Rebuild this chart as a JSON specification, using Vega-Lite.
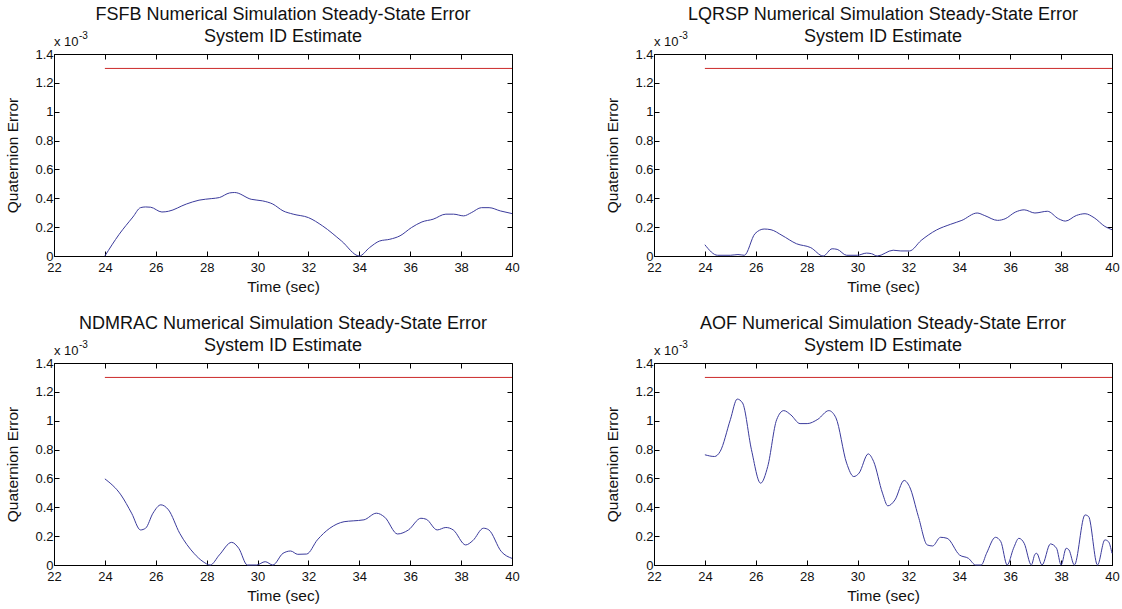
{
  "$schema": "https://vega.github.io/schema/vega-lite/v6.json",
  "background": "white",
  "padding": {"left": 5, "top": 5, "right": 5, "bottom": 5},
  "datasets": {
    "curves": [
      {"ctrl": "FSFB", "t": 24, "err": 0},
      {"ctrl": "FSFB", "t": 24.56, "err": 0.15},
      {"ctrl": "FSFB", "t": 25.1, "err": 0.27},
      {"ctrl": "FSFB", "t": 25.4, "err": 0.335},
      {"ctrl": "FSFB", "t": 25.6, "err": 0.34},
      {"ctrl": "FSFB", "t": 25.8, "err": 0.338},
      {"ctrl": "FSFB", "t": 26.24, "err": 0.305},
      {"ctrl": "FSFB", "t": 26.5, "err": 0.31},
      {"ctrl": "FSFB", "t": 27.2, "err": 0.36},
      {"ctrl": "FSFB", "t": 27.7, "err": 0.387},
      {"ctrl": "FSFB", "t": 28.2, "err": 0.398},
      {"ctrl": "FSFB", "t": 28.5, "err": 0.405},
      {"ctrl": "FSFB", "t": 28.9, "err": 0.437},
      {"ctrl": "FSFB", "t": 29.1, "err": 0.44},
      {"ctrl": "FSFB", "t": 29.75, "err": 0.393},
      {"ctrl": "FSFB", "t": 30.2, "err": 0.382},
      {"ctrl": "FSFB", "t": 30.6, "err": 0.36},
      {"ctrl": "FSFB", "t": 31.0, "err": 0.313},
      {"ctrl": "FSFB", "t": 31.4, "err": 0.29},
      {"ctrl": "FSFB", "t": 32.0, "err": 0.266},
      {"ctrl": "FSFB", "t": 32.56, "err": 0.208},
      {"ctrl": "FSFB", "t": 33.3, "err": 0.104},
      {"ctrl": "FSFB", "t": 34.0, "err": 0},
      {"ctrl": "FSFB", "t": 34.4, "err": 0.058},
      {"ctrl": "FSFB", "t": 34.8, "err": 0.104},
      {"ctrl": "FSFB", "t": 35.2, "err": 0.116},
      {"ctrl": "FSFB", "t": 35.6, "err": 0.14},
      {"ctrl": "FSFB", "t": 36.05, "err": 0.197},
      {"ctrl": "FSFB", "t": 36.46, "err": 0.236},
      {"ctrl": "FSFB", "t": 36.9, "err": 0.255},
      {"ctrl": "FSFB", "t": 37.4, "err": 0.29},
      {"ctrl": "FSFB", "t": 37.7, "err": 0.29},
      {"ctrl": "FSFB", "t": 38.1, "err": 0.278},
      {"ctrl": "FSFB", "t": 38.4, "err": 0.3},
      {"ctrl": "FSFB", "t": 38.8, "err": 0.335},
      {"ctrl": "FSFB", "t": 39.1, "err": 0.335},
      {"ctrl": "FSFB", "t": 39.55, "err": 0.312},
      {"ctrl": "FSFB", "t": 40, "err": 0.294},

      {"ctrl": "LQRSP", "t": 24, "err": 0.078},
      {"ctrl": "LQRSP", "t": 24.5, "err": 0.005},
      {"ctrl": "LQRSP", "t": 25.0, "err": 0.005},
      {"ctrl": "LQRSP", "t": 25.3, "err": 0.01},
      {"ctrl": "LQRSP", "t": 25.55, "err": 0.005},
      {"ctrl": "LQRSP", "t": 25.97, "err": 0.155},
      {"ctrl": "LQRSP", "t": 26.33, "err": 0.187},
      {"ctrl": "LQRSP", "t": 26.6, "err": 0.182},
      {"ctrl": "LQRSP", "t": 27.03, "err": 0.143},
      {"ctrl": "LQRSP", "t": 27.6, "err": 0.085},
      {"ctrl": "LQRSP", "t": 28.16, "err": 0.058},
      {"ctrl": "LQRSP", "t": 28.65, "err": 0},
      {"ctrl": "LQRSP", "t": 29.0, "err": 0.05},
      {"ctrl": "LQRSP", "t": 29.2, "err": 0.046},
      {"ctrl": "LQRSP", "t": 29.57, "err": 0.005},
      {"ctrl": "LQRSP", "t": 29.99, "err": 0.005},
      {"ctrl": "LQRSP", "t": 30.35, "err": 0.02},
      {"ctrl": "LQRSP", "t": 30.55, "err": 0.016},
      {"ctrl": "LQRSP", "t": 30.77, "err": 0},
      {"ctrl": "LQRSP", "t": 31.4, "err": 0.04},
      {"ctrl": "LQRSP", "t": 31.7, "err": 0.035},
      {"ctrl": "LQRSP", "t": 32.04, "err": 0.035},
      {"ctrl": "LQRSP", "t": 32.5, "err": 0.108},
      {"ctrl": "LQRSP", "t": 33.1, "err": 0.18},
      {"ctrl": "LQRSP", "t": 33.66, "err": 0.22},
      {"ctrl": "LQRSP", "t": 34.1, "err": 0.247},
      {"ctrl": "LQRSP", "t": 34.7, "err": 0.298},
      {"ctrl": "LQRSP", "t": 35.0, "err": 0.28},
      {"ctrl": "LQRSP", "t": 35.5, "err": 0.247},
      {"ctrl": "LQRSP", "t": 35.8, "err": 0.258},
      {"ctrl": "LQRSP", "t": 36.2, "err": 0.304},
      {"ctrl": "LQRSP", "t": 36.55, "err": 0.32},
      {"ctrl": "LQRSP", "t": 36.97, "err": 0.298},
      {"ctrl": "LQRSP", "t": 37.46, "err": 0.31},
      {"ctrl": "LQRSP", "t": 37.9, "err": 0.258},
      {"ctrl": "LQRSP", "t": 38.17, "err": 0.242},
      {"ctrl": "LQRSP", "t": 38.6, "err": 0.281},
      {"ctrl": "LQRSP", "t": 38.94, "err": 0.293},
      {"ctrl": "LQRSP", "t": 39.3, "err": 0.265},
      {"ctrl": "LQRSP", "t": 39.72, "err": 0.205},
      {"ctrl": "LQRSP", "t": 40, "err": 0.182},

      {"ctrl": "NDMRAC", "t": 24, "err": 0.597},
      {"ctrl": "NDMRAC", "t": 24.63, "err": 0.486},
      {"ctrl": "NDMRAC", "t": 25.05, "err": 0.359},
      {"ctrl": "NDMRAC", "t": 25.4, "err": 0.243},
      {"ctrl": "NDMRAC", "t": 25.6, "err": 0.255},
      {"ctrl": "NDMRAC", "t": 25.89, "err": 0.359},
      {"ctrl": "NDMRAC", "t": 26.2, "err": 0.417},
      {"ctrl": "NDMRAC", "t": 26.5, "err": 0.382},
      {"ctrl": "NDMRAC", "t": 26.94, "err": 0.22},
      {"ctrl": "NDMRAC", "t": 27.5, "err": 0.081},
      {"ctrl": "NDMRAC", "t": 27.86, "err": 0.023},
      {"ctrl": "NDMRAC", "t": 28.14, "err": 0},
      {"ctrl": "NDMRAC", "t": 28.5, "err": 0.07},
      {"ctrl": "NDMRAC", "t": 28.98, "err": 0.157},
      {"ctrl": "NDMRAC", "t": 29.26, "err": 0.116},
      {"ctrl": "NDMRAC", "t": 29.6, "err": 0},
      {"ctrl": "NDMRAC", "t": 29.96, "err": 0},
      {"ctrl": "NDMRAC", "t": 30.3, "err": 0.023},
      {"ctrl": "NDMRAC", "t": 30.6, "err": 0},
      {"ctrl": "NDMRAC", "t": 31.0, "err": 0.081},
      {"ctrl": "NDMRAC", "t": 31.3, "err": 0.097},
      {"ctrl": "NDMRAC", "t": 31.58, "err": 0.074},
      {"ctrl": "NDMRAC", "t": 31.93, "err": 0.076},
      {"ctrl": "NDMRAC", "t": 32.35, "err": 0.174},
      {"ctrl": "NDMRAC", "t": 32.84, "err": 0.255},
      {"ctrl": "NDMRAC", "t": 33.4, "err": 0.3},
      {"ctrl": "NDMRAC", "t": 33.76, "err": 0.306},
      {"ctrl": "NDMRAC", "t": 34.18, "err": 0.313},
      {"ctrl": "NDMRAC", "t": 34.67, "err": 0.359},
      {"ctrl": "NDMRAC", "t": 35.0, "err": 0.331},
      {"ctrl": "NDMRAC", "t": 35.5, "err": 0.215},
      {"ctrl": "NDMRAC", "t": 35.93, "err": 0.243},
      {"ctrl": "NDMRAC", "t": 36.42, "err": 0.324},
      {"ctrl": "NDMRAC", "t": 36.63, "err": 0.317},
      {"ctrl": "NDMRAC", "t": 37.06, "err": 0.243},
      {"ctrl": "NDMRAC", "t": 37.4, "err": 0.26},
      {"ctrl": "NDMRAC", "t": 37.69, "err": 0.243},
      {"ctrl": "NDMRAC", "t": 38.18, "err": 0.139},
      {"ctrl": "NDMRAC", "t": 38.46, "err": 0.169},
      {"ctrl": "NDMRAC", "t": 38.88, "err": 0.255},
      {"ctrl": "NDMRAC", "t": 39.09, "err": 0.243},
      {"ctrl": "NDMRAC", "t": 39.58, "err": 0.093},
      {"ctrl": "NDMRAC", "t": 40, "err": 0.046},

      {"ctrl": "AOF", "t": 24, "err": 0.764},
      {"ctrl": "AOF", "t": 24.38, "err": 0.752},
      {"ctrl": "AOF", "t": 24.6, "err": 0.787},
      {"ctrl": "AOF", "t": 25.0, "err": 1.007},
      {"ctrl": "AOF", "t": 25.27, "err": 1.15},
      {"ctrl": "AOF", "t": 25.48, "err": 1.123},
      {"ctrl": "AOF", "t": 25.83, "err": 0.799},
      {"ctrl": "AOF", "t": 26.19, "err": 0.567},
      {"ctrl": "AOF", "t": 26.47, "err": 0.683},
      {"ctrl": "AOF", "t": 26.82, "err": 1.007},
      {"ctrl": "AOF", "t": 27.1, "err": 1.07},
      {"ctrl": "AOF", "t": 27.38, "err": 1.04},
      {"ctrl": "AOF", "t": 27.74, "err": 0.98},
      {"ctrl": "AOF", "t": 28.02, "err": 0.98},
      {"ctrl": "AOF", "t": 28.44, "err": 1.01},
      {"ctrl": "AOF", "t": 28.87, "err": 1.07},
      {"ctrl": "AOF", "t": 29.15, "err": 1.02},
      {"ctrl": "AOF", "t": 29.57, "err": 0.706},
      {"ctrl": "AOF", "t": 29.85, "err": 0.613},
      {"ctrl": "AOF", "t": 30.06, "err": 0.637},
      {"ctrl": "AOF", "t": 30.42, "err": 0.77},
      {"ctrl": "AOF", "t": 30.63, "err": 0.718},
      {"ctrl": "AOF", "t": 30.98, "err": 0.498},
      {"ctrl": "AOF", "t": 31.19, "err": 0.41},
      {"ctrl": "AOF", "t": 31.47, "err": 0.451},
      {"ctrl": "AOF", "t": 31.83, "err": 0.586},
      {"ctrl": "AOF", "t": 32.04, "err": 0.544},
      {"ctrl": "AOF", "t": 32.39, "err": 0.336},
      {"ctrl": "AOF", "t": 32.74, "err": 0.139},
      {"ctrl": "AOF", "t": 32.95, "err": 0.132},
      {"ctrl": "AOF", "t": 33.26, "err": 0.192},
      {"ctrl": "AOF", "t": 33.52, "err": 0.185},
      {"ctrl": "AOF", "t": 34.01, "err": 0.069},
      {"ctrl": "AOF", "t": 34.36, "err": 0.046},
      {"ctrl": "AOF", "t": 34.64, "err": 0},
      {"ctrl": "AOF", "t": 34.86, "err": 0},
      {"ctrl": "AOF", "t": 35.07, "err": 0.081},
      {"ctrl": "AOF", "t": 35.42, "err": 0.192},
      {"ctrl": "AOF", "t": 35.63, "err": 0.162},
      {"ctrl": "AOF", "t": 35.88, "err": 0},
      {"ctrl": "AOF", "t": 36.13, "err": 0.116},
      {"ctrl": "AOF", "t": 36.34, "err": 0.185},
      {"ctrl": "AOF", "t": 36.55, "err": 0.15},
      {"ctrl": "AOF", "t": 36.83, "err": 0},
      {"ctrl": "AOF", "t": 36.97, "err": 0.074},
      {"ctrl": "AOF", "t": 37.04, "err": 0.081},
      {"ctrl": "AOF", "t": 37.25, "err": 0},
      {"ctrl": "AOF", "t": 37.58, "err": 0.146},
      {"ctrl": "AOF", "t": 37.82, "err": 0.116},
      {"ctrl": "AOF", "t": 38.0, "err": 0},
      {"ctrl": "AOF", "t": 38.2, "err": 0.116},
      {"ctrl": "AOF", "t": 38.31, "err": 0.104},
      {"ctrl": "AOF", "t": 38.52, "err": 0},
      {"ctrl": "AOF", "t": 38.94, "err": 0.347},
      {"ctrl": "AOF", "t": 39.08, "err": 0.336},
      {"ctrl": "AOF", "t": 39.43, "err": 0},
      {"ctrl": "AOF", "t": 39.72, "err": 0.174},
      {"ctrl": "AOF", "t": 39.86, "err": 0.162},
      {"ctrl": "AOF", "t": 40, "err": 0.081}
    ],
    "bound": [
      {"t": 24, "err": 1.3},
      {"t": 40, "err": 1.3}
    ],
    "scale_note": [
      {"base": "x 10", "exp": "-3", "t": 22, "err": 1.4}
    ]
  },
  "config": {
    "font": "Liberation Sans",
    "view": {"stroke": "black", "strokeWidth": 1},
    "axis": {
      "grid": false,
      "domainColor": "black",
      "tickColor": "black",
      "labelColor": "#111111",
      "titleColor": "#111111",
      "labelFont": "Liberation Sans",
      "titleFont": "Liberation Sans",
      "labelFontSize": 13,
      "titleFontSize": 15.5,
      "titleFontWeight": "normal",
      "tickSize": -5,
      "labelFlush": false,
      "labelOverlap": false,
      "labelPadding": 6
    },
    "title": {
      "font": "Liberation Sans",
      "fontSize": 18,
      "fontWeight": "normal",
      "lineHeight": 22,
      "color": "#111111",
      "offset": -15,
      "frame": "group",
      "anchor": "middle"
    }
  },
  "columns": 2,
  "bounds": "flush",
  "spacing": {"row": 107, "column": 142},
  "concat": [
    {
      "title": {"text": ["FSFB Numerical Simulation Steady-State Error", "System ID Estimate"]},
      "width": 458, "height": 202,
      "layer": [
        {
          "data": {"name": "curves"},
          "transform": [{"filter": "datum.ctrl === 'FSFB'"}],
          "mark": {"type": "line", "color": "#3b3b9c", "strokeWidth": 1, "interpolate": "monotone"},
          "encoding": {
            "x": {"field": "t", "type": "quantitative", "scale": {"domain": [22, 40], "nice": false}, "axis": {"orient": "bottom", "title": "Time (sec)", "values": [22, 24, 26, 28, 30, 32, 34, 36, 38, 40], "titlePadding": 5, "labelPadding": 10}},
            "y": {"field": "err", "type": "quantitative", "scale": {"domain": [0, 1.4], "nice": false}, "axis": {"orient": "left", "title": "Quaternion Error", "values": [0, 0.2, 0.4, 0.6, 0.8, 1, 1.2, 1.4], "format": "~g", "titlePadding": 14}}
          }
        },
        {
          "data": {"name": "bound"},
          "mark": {"type": "line", "color": "#cc2a2a", "strokeWidth": 1},
          "encoding": {
            "x": {"field": "t", "type": "quantitative", "axis": {"orient": "top", "labels": false, "title": null, "domain": false, "values": [22, 24, 26, 28, 30, 32, 34, 36, 38, 40]}},
            "y": {"field": "err", "type": "quantitative", "axis": {"orient": "right", "labels": false, "title": null, "domain": false, "values": [0, 0.2, 0.4, 0.6, 0.8, 1, 1.2, 1.4]}}
          }
        },
        {
          "data": {"name": "scale_note"},
          "mark": {"type": "text", "align": "left", "baseline": "alphabetic", "fontSize": 13, "dy": -8, "color": "#111111"},
          "encoding": {"x": {"field": "t", "type": "quantitative", "axis": null}, "y": {"field": "err", "type": "quantitative", "axis": null}, "text": {"field": "base"}}
        },
        {
          "data": {"name": "scale_note"},
          "mark": {"type": "text", "align": "left", "baseline": "alphabetic", "fontSize": 10, "dx": 25, "dy": -15, "color": "#111111"},
          "encoding": {"x": {"field": "t", "type": "quantitative", "axis": null}, "y": {"field": "err", "type": "quantitative", "axis": null}, "text": {"field": "exp"}}
        }
      ]
    },
    {
      "title": {"text": ["LQRSP Numerical Simulation Steady-State Error", "System ID Estimate"]},
      "width": 458, "height": 202,
      "layer": [
        {
          "data": {"name": "curves"},
          "transform": [{"filter": "datum.ctrl === 'LQRSP'"}],
          "mark": {"type": "line", "color": "#3b3b9c", "strokeWidth": 1, "interpolate": "monotone"},
          "encoding": {
            "x": {"field": "t", "type": "quantitative", "scale": {"domain": [22, 40], "nice": false}, "axis": {"orient": "bottom", "title": "Time (sec)", "values": [22, 24, 26, 28, 30, 32, 34, 36, 38, 40], "titlePadding": 5, "labelPadding": 10}},
            "y": {"field": "err", "type": "quantitative", "scale": {"domain": [0, 1.4], "nice": false}, "axis": {"orient": "left", "title": "Quaternion Error", "values": [0, 0.2, 0.4, 0.6, 0.8, 1, 1.2, 1.4], "format": "~g", "titlePadding": 14}}
          }
        },
        {
          "data": {"name": "bound"},
          "mark": {"type": "line", "color": "#cc2a2a", "strokeWidth": 1},
          "encoding": {
            "x": {"field": "t", "type": "quantitative", "axis": {"orient": "top", "labels": false, "title": null, "domain": false, "values": [22, 24, 26, 28, 30, 32, 34, 36, 38, 40]}},
            "y": {"field": "err", "type": "quantitative", "axis": {"orient": "right", "labels": false, "title": null, "domain": false, "values": [0, 0.2, 0.4, 0.6, 0.8, 1, 1.2, 1.4]}}
          }
        },
        {
          "data": {"name": "scale_note"},
          "mark": {"type": "text", "align": "left", "baseline": "alphabetic", "fontSize": 13, "dy": -8, "color": "#111111"},
          "encoding": {"x": {"field": "t", "type": "quantitative", "axis": null}, "y": {"field": "err", "type": "quantitative", "axis": null}, "text": {"field": "base"}}
        },
        {
          "data": {"name": "scale_note"},
          "mark": {"type": "text", "align": "left", "baseline": "alphabetic", "fontSize": 10, "dx": 25, "dy": -15, "color": "#111111"},
          "encoding": {"x": {"field": "t", "type": "quantitative", "axis": null}, "y": {"field": "err", "type": "quantitative", "axis": null}, "text": {"field": "exp"}}
        }
      ]
    },
    {
      "title": {"text": ["NDMRAC Numerical Simulation Steady-State Error", "System ID Estimate"]},
      "width": 458, "height": 202,
      "layer": [
        {
          "data": {"name": "curves"},
          "transform": [{"filter": "datum.ctrl === 'NDMRAC'"}],
          "mark": {"type": "line", "color": "#3b3b9c", "strokeWidth": 1, "interpolate": "monotone"},
          "encoding": {
            "x": {"field": "t", "type": "quantitative", "scale": {"domain": [22, 40], "nice": false}, "axis": {"orient": "bottom", "title": "Time (sec)", "values": [22, 24, 26, 28, 30, 32, 34, 36, 38, 40], "titlePadding": 5, "labelPadding": 10}},
            "y": {"field": "err", "type": "quantitative", "scale": {"domain": [0, 1.4], "nice": false}, "axis": {"orient": "left", "title": "Quaternion Error", "values": [0, 0.2, 0.4, 0.6, 0.8, 1, 1.2, 1.4], "format": "~g", "titlePadding": 14}}
          }
        },
        {
          "data": {"name": "bound"},
          "mark": {"type": "line", "color": "#cc2a2a", "strokeWidth": 1},
          "encoding": {
            "x": {"field": "t", "type": "quantitative", "axis": {"orient": "top", "labels": false, "title": null, "domain": false, "values": [22, 24, 26, 28, 30, 32, 34, 36, 38, 40]}},
            "y": {"field": "err", "type": "quantitative", "axis": {"orient": "right", "labels": false, "title": null, "domain": false, "values": [0, 0.2, 0.4, 0.6, 0.8, 1, 1.2, 1.4]}}
          }
        },
        {
          "data": {"name": "scale_note"},
          "mark": {"type": "text", "align": "left", "baseline": "alphabetic", "fontSize": 13, "dy": -8, "color": "#111111"},
          "encoding": {"x": {"field": "t", "type": "quantitative", "axis": null}, "y": {"field": "err", "type": "quantitative", "axis": null}, "text": {"field": "base"}}
        },
        {
          "data": {"name": "scale_note"},
          "mark": {"type": "text", "align": "left", "baseline": "alphabetic", "fontSize": 10, "dx": 25, "dy": -15, "color": "#111111"},
          "encoding": {"x": {"field": "t", "type": "quantitative", "axis": null}, "y": {"field": "err", "type": "quantitative", "axis": null}, "text": {"field": "exp"}}
        }
      ]
    },
    {
      "title": {"text": ["AOF Numerical Simulation Steady-State Error", "System ID Estimate"]},
      "width": 458, "height": 202,
      "layer": [
        {
          "data": {"name": "curves"},
          "transform": [{"filter": "datum.ctrl === 'AOF'"}],
          "mark": {"type": "line", "color": "#3b3b9c", "strokeWidth": 1, "interpolate": "monotone"},
          "encoding": {
            "x": {"field": "t", "type": "quantitative", "scale": {"domain": [22, 40], "nice": false}, "axis": {"orient": "bottom", "title": "Time (sec)", "values": [22, 24, 26, 28, 30, 32, 34, 36, 38, 40], "titlePadding": 5, "labelPadding": 10}},
            "y": {"field": "err", "type": "quantitative", "scale": {"domain": [0, 1.4], "nice": false}, "axis": {"orient": "left", "title": "Quaternion Error", "values": [0, 0.2, 0.4, 0.6, 0.8, 1, 1.2, 1.4], "format": "~g", "titlePadding": 14}}
          }
        },
        {
          "data": {"name": "bound"},
          "mark": {"type": "line", "color": "#cc2a2a", "strokeWidth": 1},
          "encoding": {
            "x": {"field": "t", "type": "quantitative", "axis": {"orient": "top", "labels": false, "title": null, "domain": false, "values": [22, 24, 26, 28, 30, 32, 34, 36, 38, 40]}},
            "y": {"field": "err", "type": "quantitative", "axis": {"orient": "right", "labels": false, "title": null, "domain": false, "values": [0, 0.2, 0.4, 0.6, 0.8, 1, 1.2, 1.4]}}
          }
        },
        {
          "data": {"name": "scale_note"},
          "mark": {"type": "text", "align": "left", "baseline": "alphabetic", "fontSize": 13, "dy": -8, "color": "#111111"},
          "encoding": {"x": {"field": "t", "type": "quantitative", "axis": null}, "y": {"field": "err", "type": "quantitative", "axis": null}, "text": {"field": "base"}}
        },
        {
          "data": {"name": "scale_note"},
          "mark": {"type": "text", "align": "left", "baseline": "alphabetic", "fontSize": 10, "dx": 25, "dy": -15, "color": "#111111"},
          "encoding": {"x": {"field": "t", "type": "quantitative", "axis": null}, "y": {"field": "err", "type": "quantitative", "axis": null}, "text": {"field": "exp"}}
        }
      ]
    }
  ]
}
